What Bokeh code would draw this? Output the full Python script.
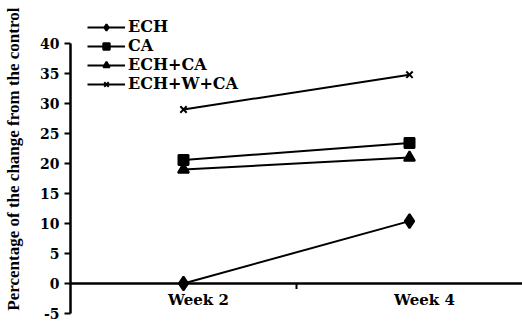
from bokeh.plotting import figure
from bokeh.models import FixedTicker, Span, Legend
from bokeh.core.properties import value
from bokeh.embed import file_html
from bokeh.resources import INLINE

weeks = ["Week 2", "Week 4"]
week_pos = [0.5, 1.5]
ech = [0.0, 10.4]
ca = [20.6, 23.4]
ech_ca = [19.0, 21.0]
ech_w_ca = [29.0, 34.8]
y_ticks = [-5, 0, 5, 10, 15, 20, 25, 30, 35, 40]

FONT = "DejaVu Serif"
LABEL_FONT = "Liberation Serif"

p = figure(width=522, height=329, output_backend="svg", toolbar_location=None,
           x_range=(0, 2), y_range=(-5, 47.17), x_axis_location=None,
           min_border_left=70, min_border_right=0, min_border_top=0, min_border_bottom=16)
p.outline_line_color = None
p.xgrid.visible = False
p.ygrid.visible = False
p.background_fill_color = "white"
p.border_fill_color = "white"

ax = p.yaxis[0]
ax.bounds = (-5, 40)
ax.ticker = FixedTicker(ticks=y_ticks, minor_ticks=[])
ax.major_label_overrides = {-5: "-5"}
ax.axis_line_width = 2.5
ax.major_tick_line_width = 2
ax.major_tick_in = 0
ax.major_tick_out = 6
ax.minor_tick_line_color = None
ax.major_label_standoff = 5
ax.major_label_text_font = FONT
ax.major_label_text_font_style = "bold"
ax.major_label_text_font_size = "14px"
ax.major_label_text_color = "black"
ax.axis_label = "Percentage of  the change from the control"
ax.axis_label_text_font = LABEL_FONT
ax.axis_label_text_font_style = "bold"
ax.axis_label_text_font_size = "17px"
ax.axis_label_text_color = "black"
ax.axis_label_standoff = 14

# x axis line at zero
p.add_layout(Span(location=0, dimension="width", line_color="black", line_width=2.5))
# category boundary tick
p.segment(x0=[1.0], y0=[0], x1=[1.0], y1=[-0.9], line_color="black", line_width=2)
# week labels
p.text(x=week_pos, y=[-2.8, -2.8], text=weeks, text_align="center", text_baseline="middle",
       x_offset=15, text_font=value(FONT), text_font_style="bold", text_font_size="15px",
       text_color="black")

series = [
    ("ECH", ech, "diamond", 14),
    ("CA", ca, "square", 10),
    ("ECH+CA", ech_ca, "triangle", 11),
    ("ECH+W+CA", ech_w_ca, "x", 9),
]
items = []
for name, vals, marker, size in series:
    r1 = p.line(week_pos, vals, line_color="black", line_width=2)
    r2 = p.scatter(week_pos, vals, marker=marker, size=size,
                   fill_color="black", line_color="black", line_width=2)
    items.append((name, [r1, r2]))

legend = Legend(items=items, location=(17, 220))
legend.border_line_color = None
legend.background_fill_alpha = 0
legend.padding = 0
legend.margin = 0
legend.spacing = 0
legend.glyph_width = 38
legend.glyph_height = 16
legend.label_height = 16
legend.label_standoff = 3
legend.label_text_font = FONT
legend.label_text_font_style = "bold"
legend.label_text_font_size = "16px"
legend.label_text_color = "black"
p.add_layout(legend, "center")

open("out.html", "w").write(file_html(p, INLINE))
